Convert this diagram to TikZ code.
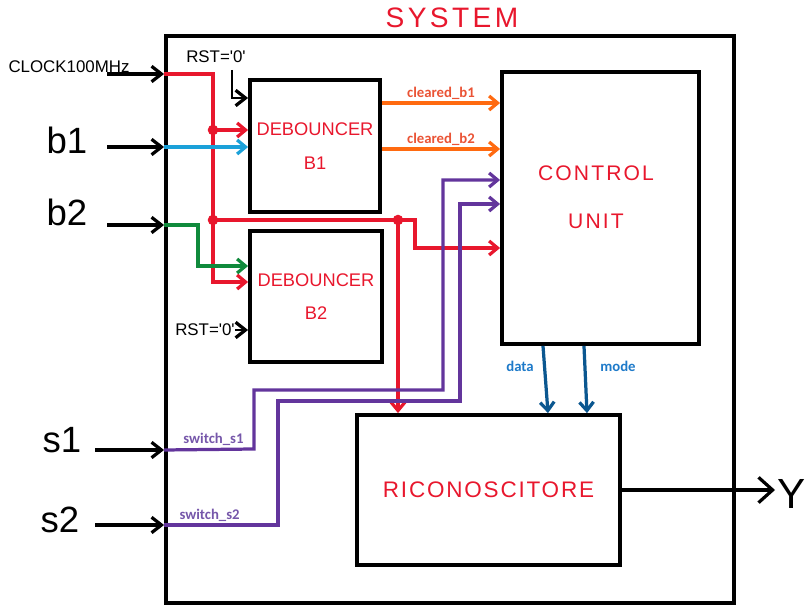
\documentclass[tikz,border=0pt]{standalone}
\usepackage{fontspec}
\setmainfont{Liberation Sans}
\newfontfamily\labfont{Carlito}
\usetikzlibrary{arrows.meta,positioning,calc}
\definecolor{hred}{HTML}{E8172D}
\definecolor{wblue}{HTML}{1BA1D9}
\definecolor{wgreen}{HTML}{108A3C}
\definecolor{worange}{HTML}{FF6A10}
\definecolor{wpurple}{HTML}{63359C}
\definecolor{wnavy}{HTML}{0B5790}
\definecolor{orlab}{HTML}{EA5335}
\definecolor{pulab}{HTML}{7657AA}
\definecolor{bllab}{HTML}{1E7AC9}

\begin{document}
\begin{tikzpicture}[
  x=0.025cm, y=-0.025cm,
  blk/.style={draw=black, line width=2.7pt, inner sep=0pt, align=center, text=hred},
  hand/.style={font=\fontsize{13}{21}\selectfont, text=hred},
  pin/.style={font=\fontsize{26}{26}\selectfont, inner sep=0pt},
  sig/.style={font=\labfont\bfseries\fontsize{10.5}{11}\selectfont, inner sep=1.5pt},
  ka/.style={-{Straight Barb[length=7pt,width=11pt,line width=2.3pt]}, line width=2.3pt, draw=black},
  wire/.style={line width=2.3pt},
  wa/.style={wire, -{Straight Barb[length=6pt,width=10pt,line width=2.3pt]}},
  dot/.style={circle, fill=hred, inner sep=0pt, minimum size=7.5pt},
]
\useasboundingbox (0,0) rectangle (805,616);

% ---------------- blocks ----------------
\node[hand, font=\fontsize{20}{20}\selectfont\addfontfeature{LetterSpace=12}] (title) at (452,18) {SYSTEM};
\node[blk, minimum width=14.2cm, minimum height=14.175cm] (sys) at (450,319.5) {};
\node[blk, minimum width=3.25cm, minimum height=3.3cm, font=\fontsize{13}{22}\selectfont] (B1) at (315,146) {DEBOUNCER\\[2pt]B1};
\node[blk, minimum width=3.3cm, minimum height=3.275cm, font=\fontsize{13}{22}\selectfont] (B2) at (316,296.5) {DEBOUNCER\\[2pt]B2};
\node[blk, minimum width=4.925cm, minimum height=6.8cm] (CU) at (600.5,208) {};
\node[hand, align=center, font=\fontsize{15}{30}\selectfont\addfontfeature{LetterSpace=10}] (cutext) at (596,197) {CONTROL\\[4pt]UNIT};
\node[blk, minimum width=6.575cm, minimum height=3.75cm, font=\fontsize{16}{16}\selectfont\addfontfeature{LetterSpace=8}] (RIC) at (488.5,490) {RICONOSCITORE};

% ---------------- inputs ----------------
\node[font=\fontsize{12}{12}\selectfont, inner sep=0pt] (clk) at (69,67) {CLOCK100MHz};
\node[pin] (b1) at (67,140) {b1};
\node[pin] (b2) at (67,212) {b2};
\node[pin] (s1) at (62,440) {s1};
\node[pin] (s2) at (60,520) {s2};

\coordinate (clkin) at (107,74);  \coordinate (clkp) at (sys.west |- clkin);
\coordinate (b1in) at (107,147);  \coordinate (b1p) at (sys.west |- b1in);
\coordinate (b2in) at (107,225);  \coordinate (b2p) at (sys.west |- b2in);
\coordinate (s1in) at (95,450);   \coordinate (s1p) at (sys.west |- s1in);
\coordinate (s2in) at (95,525);   \coordinate (s2p) at (sys.west |- s2in);

\draw[ka] (clkin) -- (clkp);
\draw[ka] (b1in) -- (b1p);
\draw[ka] (b2in) -- (b2p);
\draw[ka] (s1in) -- (s1p);
\draw[ka] (s2in) -- (s2p);

% ---------------- resets ----------------
\node[font=\fontsize{12}{12}\selectfont, inner sep=0pt] (rst1) at (216,57) {RST=\textquotesingle 0\textquotesingle};
\node[font=\fontsize{12}{12}\selectfont, inner sep=0pt] (rst2) at (205,330) {RST=\textquotesingle 0\textquotesingle};
\coordinate (r1) at (232,70);
\draw[ka, line width=2pt] (r1) |- (B1.west |- 0,98);
\draw[ka, line width=2pt] (rst2.east) -- (rst2.east -| B2.west);

% ---------------- clock net ----------------
\coordinate (j1) at (213,130);
\coordinate (j2) at (213,220);
\coordinate (j3) at (398,220);
\coordinate (k1) at (415,220);
\draw[wire, hred] (clkp) -| (j1) -- (j2);
\draw[wa, hred] (j1) -- (j1 -| B1.west);
\draw[wa, hred] (j2) |- (B2.west |- 0,282);
\draw[wa, hred] (j2) -- (k1) |- (CU.west |- 0,248);
\draw[wa, hred] (j3) -- (j3 |- RIC.north);
\node[dot] at (j1) {};
\node[dot] at (j2) {};
\node[dot] at (j3) {};

% ---------------- buttons ----------------
\draw[wa, wblue] (b1p) -- (b1p -| B1.west);
\draw[wa, wgreen] (b2p) -| (198,266) -- (B2.west |- 0,266);

% cleared outputs
\draw[wa, worange] (B1.east |- 0,103) --
  node[sig, above, text=orlab] {cleared\_b1} (CU.west |- 0,103);
\draw[wa, worange] (B1.east |- 0,149) --
  node[sig, above, text=orlab] {cleared\_b2} (CU.west |- 0,149);

% ---------------- switches ----------------
\draw[wa, wpurple] (s1p) -- node[sig, above, text=pulab, pos=0.55] {switch\_s1} (254,449)
  |- (443,390) |- (CU.west |- 0,180);
\draw[wa, wpurple] (s2p) -- node[sig, above, text=pulab, pos=0.4] {switch\_s2} (278,525)
  |- (460,401) |- (CU.west |- 0,204);

% ---------------- control unit to recogniser ----------------
\draw[wa, wnavy] (CU.south -| 543,0) -- (RIC.north -| 548,0);
\draw[wa, wnavy] (CU.south -| 584,0) -- (RIC.north -| 587,0);
\node[sig, text=bllab] (data) at (520,366) {data};
\node[sig, text=bllab] (mode) at (618,366) {mode};

% output
\coordinate (yout) at (775,490);
\draw[ka, -{Straight Barb[length=10pt,width=18pt,line width=2.3pt]}] (RIC.east |- yout) -- (yout);
\node[font=\fontsize{30}{30}\selectfont, inner sep=0pt, anchor=west] (Y) at (777,494) {Y};

\end{tikzpicture}
\end{document}
